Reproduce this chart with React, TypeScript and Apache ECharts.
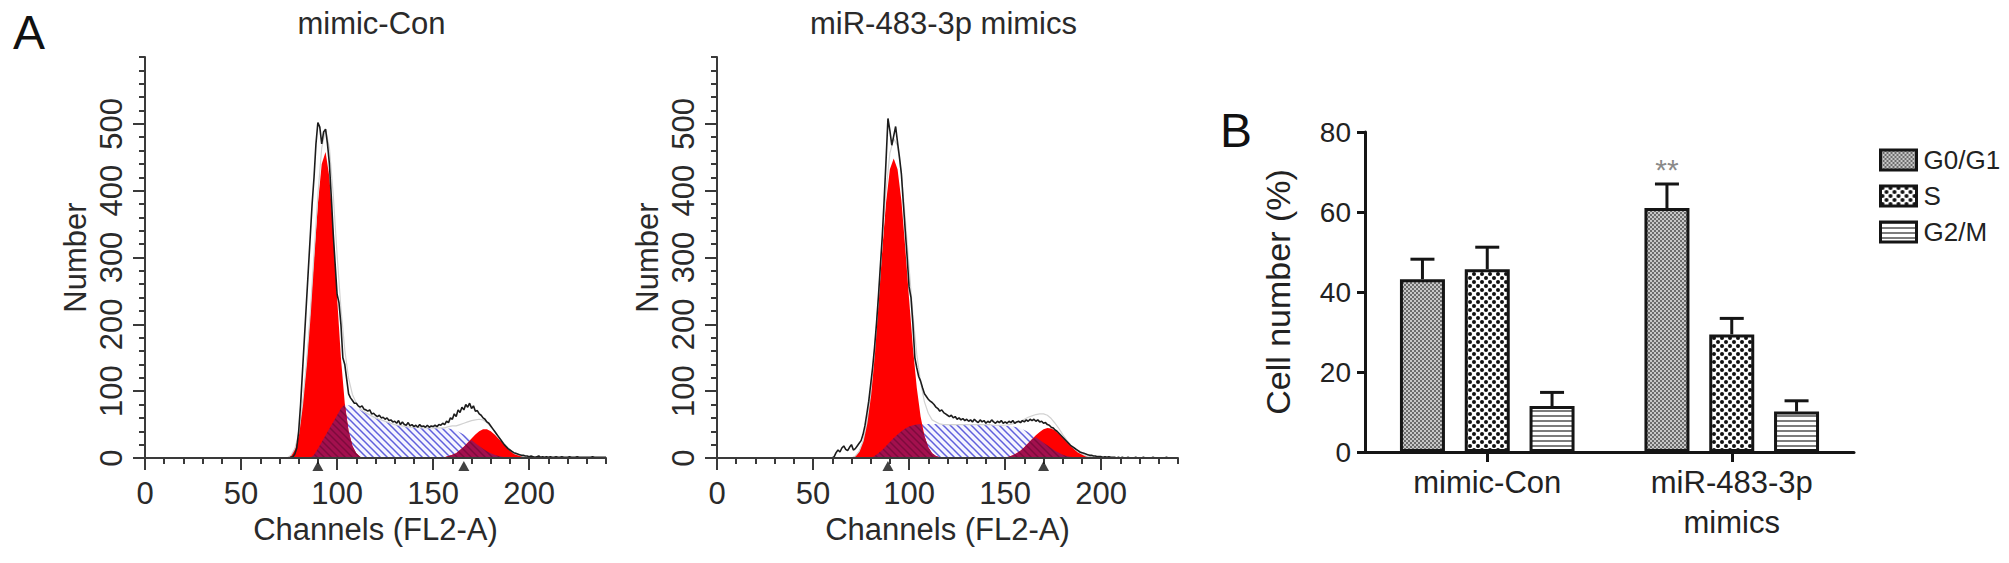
import React, { useEffect, useRef } from "react";
import * as echarts from "echarts";

const FONT = "'Liberation Sans', Arial, Helvetica, sans-serif";

// ---------- Panel A : DNA histograms ----------
const channelTickValues = [0, 50, 100, 150, 200];
const countTickValues = [0, 100, 200, 300, 400, 500];
const panelTitles = ["mimic-Con", "miR-483-3p mimics"];
const xAxisTitle = "Channels (FL2-A)";
const yAxisTitle = "Number";

// channels at which the model components were read
const modelChannels = [
  70, 72, 74, 76, 78, 80, 82, 84, 86, 88,
  90, 92, 94, 96, 98, 100, 102, 104, 106, 108,
  110, 112, 114, 116, 118, 120, 122, 124, 126, 128,
  130, 132, 134, 136, 138, 140, 142, 144, 146, 148,
  150, 152, 154, 156, 158, 160, 162, 164, 166, 168,
  170, 172, 174, 176, 178, 180, 182, 184, 186, 188,
  190, 192, 194, 196, 198, 200,
];

// mimic-Con
const conG1 = [
  0, 0, 0, 4, 14, 36, 80, 140, 215, 300,
  380, 440, 458, 420, 340, 240, 150, 82, 40, 18,
  7, 2, 0, 0, 0, 0, 0, 0, 0, 0,
  0, 0, 0, 0, 0, 0, 0, 0, 0, 0,
  0, 0, 0, 0, 0, 0, 0, 0, 0, 0,
  0, 0, 0, 0, 0, 0, 0, 0, 0, 0,
  0, 0, 0, 0, 0, 0,
];
const conS = [
  0, 0, 0, 0, 0, 0, 0, 0, 0, 5,
  14, 24, 34, 44, 54, 64, 74, 80, 79, 77,
  75, 72, 69, 66, 63, 60, 58, 56, 54, 52,
  50, 49, 48, 47, 46, 46, 46, 45, 45, 45,
  45, 45, 45, 44, 44, 43, 41, 38, 35, 31,
  27, 22, 18, 14, 10, 7, 5, 3, 2, 1,
  0, 0, 0, 0, 0, 0,
];
const conG2 = [
  0, 0, 0, 0, 0, 0, 0, 0, 0, 0,
  0, 0, 0, 0, 0, 0, 0, 0, 0, 0,
  0, 0, 0, 0, 0, 0, 0, 0, 0, 0,
  0, 0, 0, 0, 0, 0, 0, 0, 0, 0,
  0, 0, 0, 1, 3, 5, 7, 12, 17, 23,
  29, 35, 40, 43, 43, 40, 35, 29, 23, 17,
  12, 7, 5, 3, 1, 0,
];
const conRawStart = 70;
const conRaw = [
  0, 0, 0, 0, 0, 0, 1, 2, 6, 15,
  40, 80, 130, 180, 230, 280, 330, 380, 420, 470,
  502, 495, 470, 488, 492, 470, 440, 390, 335, 290,
  245, 232, 200, 150, 140, 118, 96, 90, 86, 82,
  82, 78, 76, 78, 73, 72, 70, 72, 66, 67,
  64, 62, 64, 60, 61, 58, 60, 56, 57, 54,
  55, 52, 56, 50, 54, 50, 49, 53, 48, 50,
  47, 49, 46, 50, 47, 48, 46, 49, 46, 48,
  47, 49, 47, 50, 49, 52, 50, 55, 53, 60,
  58, 66, 62, 72, 68, 76, 72, 80, 76, 82,
  74, 78, 70, 71, 66, 64, 60, 58, 54, 52,
  48, 44, 40, 36, 32, 28, 24, 20, 17, 14,
  12, 10, 8, 7, 6, 5, 4, 4, 3, 3,
  2, 3, 2, 1, 2, 3, 1, 2, 1, 2,
  1, 2, 1, 1, 2, 1, 1, 2, 1, 1,
  1, 2, 1, 1, 1, 2, 1, 1, 1, 1,
  1, 1, 1, 2, 1, 1, 1, 1, 1, 1,
  1,
];
const conPeakMarks = [90, 166];

// miR-483-3p mimics
const mirG1 = [
  0, 3, 10, 25, 52, 95, 155, 230, 310, 382,
  432, 448, 432, 385, 315, 238, 165, 105, 62, 33,
  16, 7, 3, 1, 0, 0, 0, 0, 0, 0,
  0, 0, 0, 0, 0, 0, 0, 0, 0, 0,
  0, 0, 0, 0, 0, 0, 0, 0, 0, 0,
  0, 0, 0, 0, 0, 0, 0, 0, 0, 0,
  0, 0, 0, 0, 0, 0,
];
const mirS = [
  0, 0, 0, 0, 0, 0, 3, 7, 12, 18,
  24, 30, 35, 40, 44, 47, 49, 50, 51, 51,
  51, 50, 51, 50, 50, 50, 50, 50, 50, 50,
  50, 50, 50, 50, 50, 50, 50, 49, 49, 49,
  48, 48, 47, 46, 44, 42, 39, 35, 31, 27,
  23, 19, 15, 11, 8, 5, 3, 2, 1, 0,
  0, 0, 0, 0, 0, 0,
];
const mirG2 = [
  0, 0, 0, 0, 0, 0, 0, 0, 0, 0,
  0, 0, 0, 0, 0, 0, 0, 0, 0, 0,
  0, 0, 0, 0, 0, 0, 0, 0, 0, 0,
  0, 0, 0, 0, 0, 0, 0, 0, 0, 0,
  1, 2, 4, 7, 11, 16, 22, 28, 34, 39,
  43, 45, 44, 41, 36, 30, 24, 18, 13, 9,
  6, 3, 2, 1, 0, 0,
];
const mirRawStart = 60;
const mirRaw = [
  0, 2, 8, 12, 9, 15, 18, 13, 11, 16,
  20, 12, 14, 18, 22, 26, 35, 48, 66, 85,
  110, 135, 165, 200, 240, 285, 330, 385, 445, 508,
  490, 468, 482, 496, 472, 450, 425, 382, 340, 300,
  256, 240, 200, 150, 135, 122, 115, 105, 96, 92,
  88, 85, 83, 80, 76, 74, 70, 72, 68, 66,
  64, 62, 64, 60, 62, 58, 60, 57, 59, 56,
  58, 55, 57, 54, 58, 55, 53, 57, 54, 56,
  52, 55, 53, 57, 54, 52, 55, 53, 56, 52,
  54, 52, 55, 53, 56, 52, 54, 55, 53, 56,
  54, 57, 55, 58, 56, 58, 55, 57, 54, 55,
  52, 53, 50, 49, 46, 45, 42, 40, 37, 34,
  31, 28, 25, 22, 19, 17, 15, 13, 11, 9,
  8, 7, 6, 5, 4, 4, 3, 3, 2, 2,
  2, 1, 2, 1, 2, 1, 1, 1, 0, 1,
  0, 1, 0, 0, 1, 0, 0, 0, 1, 0,
  0, 0, 1, 0, 0, 0, 0, 1, 0, 0,
  0, 0, 0, 0, 1, 0, 0, 0, 0, 0,
  0,
];
const mirPeakMarks = [89, 170];

// ---------- Panel B : cell cycle bars ----------
const barCategories = ["mimic-Con", "miR-483-3p\nmimics"];
const phaseNames = ["G0/G1", "S", "G2/M"];
const g0g1Mean = [43.2, 61.0];
const g0g1Sd = [5.0, 6.0];
const sMean = [45.7, 29.4];
const sSd = [5.5, 4.0];
const g2mMean = [11.5, 10.1];
const g2mSd = [3.4, 2.7];
const g0g1Significance = ["", "**"];

// ---------- styling helpers ----------
function svgPattern(svg: string, w: number, h: number) {
  return {
    image: "data:image/svg+xml;charset=utf-8," + encodeURIComponent(svg),
    repeat: "repeat",
    imageWidth: w,
    imageHeight: h,
  };
}
const hatch = (bg: string, line: string) =>
  svgPattern(
    `<svg xmlns='http://www.w3.org/2000/svg' width='7' height='7'><rect width='7' height='7' fill='${bg}'/><path d='M-2,-2L9,9M-2,5L2,9M5,-2L9,2' stroke='${line}' stroke-width='1.5'/></svg>`,
    7,
    7
  );
const sPhaseFill = hatch("#f5f5ff", "#6060dc");
const overlapFill = hatch("#a3104e", "#7e0a3c");
const G1_RED = "#ff0000";

const g0g1Fill = svgPattern(
  `<svg xmlns='http://www.w3.org/2000/svg' width='4' height='4'><rect width='4' height='4' fill='#c8c8c8'/><rect width='2' height='2' fill='#6c6c6c'/><rect x='2' y='2' width='2' height='2' fill='#6c6c6c'/></svg>`,
  4,
  4
);
const sFill = svgPattern(
  `<svg xmlns='http://www.w3.org/2000/svg' width='8' height='8'><rect width='8' height='8' fill='#ffffff'/><circle cx='2' cy='2' r='2' fill='#111'/><circle cx='6' cy='6' r='2' fill='#111'/></svg>`,
  8,
  8
);
const g2mFill = svgPattern(
  `<svg xmlns='http://www.w3.org/2000/svg' width='5' height='5'><rect width='5' height='5' fill='#ffffff'/><rect width='5' height='2' fill='#7c7c7c'/></svg>`,
  5,
  5
);
const phaseFills = [g0g1Fill, sFill, g2mFill];

const AXIS_A = "#3a3a3a";
const TEXT_A = "#2a2a2a";
const INK_B = "#151515";

const PANEL_TOP = 57;
const PANEL_HEIGHT = 401;
const PANEL_WIDTH = 461;
const BAR_WIDTH = 45;
const BAR_GAP = 0.44;
const BAR_STEP = BAR_WIDTH * (1 + BAR_GAP);

const zip = (xs: number[], ys: number[]) => xs.map((x, i) => [x, ys[i]]);

function buildOption() {
  const panels = [
    { left: 145, title: panelTitles[0], g1: conG1, s: conS, g2: conG2, rawStart: conRawStart, raw: conRaw, marks: conPeakMarks },
    { left: 717, title: panelTitles[1], g1: mirG1, s: mirS, g2: mirG2, rawStart: mirRawStart, raw: mirRaw, marks: mirPeakMarks },
  ];

  const grid: any[] = [];
  const xAxis: any[] = [];
  const yAxis: any[] = [];
  const series: any[] = [];
  const graphic: any[] = [];

  panels.forEach((p, gi) => {
    grid.push({ left: p.left, top: PANEL_TOP, width: PANEL_WIDTH, height: PANEL_HEIGHT, outerBoundsMode: "none" });
    const line = { color: AXIS_A, width: 2 };
    // minor-tick axes (carry axis line)
    xAxis.push({
      gridIndex: gi, type: "value", min: 0, max: 240, interval: 10, position: "bottom", z: 5,
      axisLine: { show: true, onZero: false, lineStyle: line },
      axisTick: { show: true, length: 6, lineStyle: line },
      axisLabel: { show: false }, splitLine: { show: false },
    });
    yAxis.push({
      gridIndex: gi, type: "value", min: 0, max: 600, interval: 20, position: "left", z: 5,
      axisLine: { show: true, onZero: false, lineStyle: line },
      axisTick: { show: true, length: 6, lineStyle: line },
      axisLabel: { show: false }, splitLine: { show: false },
    });
    // major-tick axes (carry labels and names)
    xAxis.push({
      gridIndex: gi, type: "value", min: 0, max: 240, interval: 50, position: "bottom", z: 5,
      axisLine: { show: false },
      axisTick: { show: true, length: 12, customValues: channelTickValues, lineStyle: line },
      axisLabel: { show: true, customValues: channelTickValues, fontSize: 31, color: TEXT_A, margin: 20, fontFamily: FONT },
      splitLine: { show: false },
      name: xAxisTitle, nameLocation: "middle", nameGap: 52,
      nameTextStyle: { fontSize: 31, color: TEXT_A, fontFamily: FONT },
    });
    yAxis.push({
      gridIndex: gi, type: "value", min: 0, max: 600, interval: 100, position: "left", z: 5,
      axisLine: { show: false },
      axisTick: { show: true, length: 12, customValues: countTickValues, lineStyle: line },
      axisLabel: { show: true, customValues: countTickValues, rotate: 90, fontSize: 31, color: TEXT_A, margin: 18, fontFamily: FONT },
      splitLine: { show: false },
      name: yAxisTitle, nameLocation: "middle", nameRotate: 90, nameGap: 54,
      nameTextStyle: { fontSize: 31, color: TEXT_A, fontFamily: FONT },
    });
    const ax = gi * 2;
    const common = { xAxisIndex: ax, yAxisIndex: ax, symbol: "none", silent: true, emphasis: { disabled: true } };
    const overlap1 = p.g1.map((v, i) => Math.min(v, p.s[i]));
    const overlap2 = p.g2.map((v, i) => Math.min(v, p.s[i]));
    const fit = p.g1.map((v, i) => v + p.s[i] + p.g2[i]);
    const rawPts = p.raw.map((v, i) => [p.rawStart + i, v]);
    series.push(
      { ...common, type: "line", data: zip(modelChannels, p.s), lineStyle: { opacity: 0 }, areaStyle: { color: sPhaseFill, opacity: 1 }, z: 2 },
      { ...common, type: "line", data: zip(modelChannels, p.g1), lineStyle: { opacity: 0 }, areaStyle: { color: G1_RED, opacity: 1 }, z: 2 },
      { ...common, type: "line", data: zip(modelChannels, p.g2), lineStyle: { opacity: 0 }, areaStyle: { color: G1_RED, opacity: 1 }, z: 2 },
      { ...common, type: "line", data: zip(modelChannels, overlap1), lineStyle: { opacity: 0 }, areaStyle: { color: overlapFill, opacity: 1 }, z: 2 },
      { ...common, type: "line", data: zip(modelChannels, overlap2), lineStyle: { opacity: 0 }, areaStyle: { color: overlapFill, opacity: 1 }, z: 2 },
      { ...common, type: "line", data: zip(modelChannels, fit), lineStyle: { color: "#d2d2d2", width: 1.2 }, z: 3 },
      { ...common, type: "line", data: rawPts, lineStyle: { color: "#1c1c1c", width: 1.6 }, z: 4 },
      {
        xAxisIndex: ax, yAxisIndex: ax, type: "scatter", silent: true, clip: false,
        data: p.marks.map((c) => [c, 0]), symbol: "triangle", symbolSize: [11, 10], symbolOffset: [0, 8],
        itemStyle: { color: "#111" }, z: 6,
      }
    );
    graphic.push({
      type: "text", x: p.left + PANEL_WIDTH / 2 - 4, y: 8,
      style: { text: p.title, fontSize: 31, fontFamily: FONT, fill: TEXT_A, align: "center", verticalAlign: "top", textAlign: "center", textVerticalAlign: "top" },
    });
  });

  // Panel B
  grid.push({ left: 1365, top: 132, width: 489, height: 320, outerBoundsMode: "none" });
  const bLine = { color: INK_B, width: 3 };
  xAxis.push({
    gridIndex: 2, type: "category", data: barCategories, position: "bottom", z: 5,
    axisLine: { show: true, lineStyle: bLine },
    axisTick: { show: true, alignWithLabel: true, length: 10, lineStyle: bLine },
    axisLabel: { fontSize: 31, color: "#222", margin: 10, lineHeight: 40, fontFamily: FONT },
    splitLine: { show: false },
  });
  yAxis.push({
    gridIndex: 2, type: "value", min: 0, max: 80, interval: 20, position: "left", z: 5,
    axisLine: { show: true, lineStyle: bLine },
    axisTick: { show: true, length: 8, lineStyle: bLine },
    axisLabel: { fontSize: 28, color: "#222", margin: 14, fontFamily: FONT },
    splitLine: { show: false },
    name: "Cell number (%)", nameLocation: "middle", nameRotate: 90, nameGap: 70,
    nameTextStyle: { fontSize: 34, color: "#222", fontFamily: FONT },
  });

  const means = [g0g1Mean, sMean, g2mMean];
  const sds = [g0g1Sd, sSd, g2mSd];
  phaseNames.forEach((name, k) => {
    series.push({
      name, type: "bar", xAxisIndex: 4, yAxisIndex: 4, barWidth: BAR_WIDTH, barGap: `${BAR_GAP * 100}%`,
      silent: true, emphasis: { disabled: true },
      itemStyle: { color: phaseFills[k], borderColor: INK_B, borderWidth: 3 },
      data: means[k].map((v, i) =>
        k === 0 && g0g1Significance[i]
          ? { value: v, label: { show: true, position: "top", distance: 24, formatter: g0g1Significance[i], fontSize: 30, color: "#8a8a8a", fontFamily: FONT } }
          : v
      ),
      z: 2,
    });
  });
  const errData: number[][] = [];
  phaseNames.forEach((_, k) => {
    means[k].forEach((m, i) => errData.push([i, k, m, sds[k][i]]));
  });
  series.push({
    type: "custom", xAxisIndex: 4, yAxisIndex: 4, silent: true, z: 4,
    encode: { x: 0, y: 2 },
    data: errData,
    renderItem: (_params: any, api: any) => {
      const cat = api.value(0);
      const k = api.value(1);
      const m = api.value(2);
      const sd = api.value(3);
      const top = api.coord([cat, m + sd]);
      const base = api.coord([cat, m]);
      const x = top[0] + (k - 1) * BAR_STEP;
      const st = { stroke: INK_B, lineWidth: 3 };
      return {
        type: "group",
        children: [
          { type: "line", shape: { x1: x, y1: base[1], x2: x, y2: top[1] }, style: st },
          { type: "line", shape: { x1: x - 12, y1: top[1], x2: x + 12, y2: top[1] }, style: st },
        ],
      };
    },
  });

  graphic.push(
    { type: "text", x: 13, y: 8, style: { text: "A", fontSize: 48, fontFamily: FONT, fill: "#111" } },
    { type: "text", x: 1220, y: 106, style: { text: "B", fontSize: 48, fontFamily: FONT, fill: "#111" } }
  );

  return {
    animation: false,
    backgroundColor: "#ffffff",
    textStyle: { fontFamily: FONT },
    grid,
    xAxis,
    yAxis,
    series,
    graphic,
    legend: {
      data: phaseNames, orient: "vertical", left: 1874, top: 142, itemWidth: 36, itemHeight: 20, itemGap: 10,
      icon: "rect", selectedMode: false,
      itemStyle: { borderColor: INK_B, borderWidth: 3 },
      textStyle: { fontSize: 26, color: "#222", fontFamily: FONT, padding: [0, 0, 0, 2] },
    },
  };
}

export default function App() {
  const ref = useRef<HTMLDivElement>(null);
  useEffect(() => {
    document.body.style.margin = "0";
    const chart = echarts.init(ref.current as HTMLDivElement, null, { renderer: "svg" });
    chart.setOption(buildOption() as any);
    return () => chart.dispose();
  }, []);
  return (
    <div
      ref={ref}
      style={{ position: "absolute", left: 0, top: 0, width: 2009, height: 563, background: "#fff" }}
    />
  );
}
